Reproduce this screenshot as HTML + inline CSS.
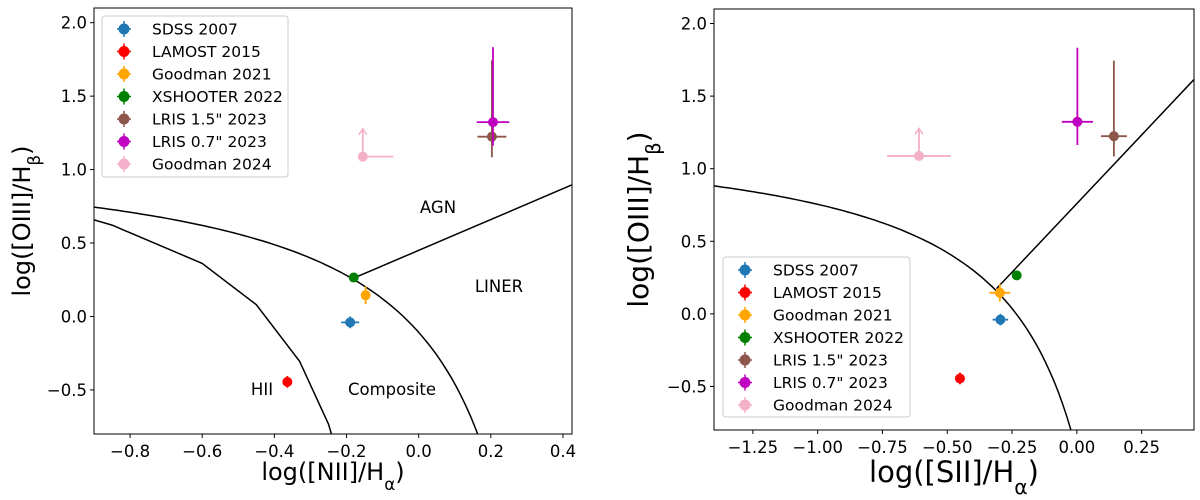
<!DOCTYPE html>
<html><head><meta charset="utf-8"><style>
body{margin:0;background:#fff;width:1200px;height:495px;overflow:hidden}
svg text{font-family:"DejaVu Sans","Liberation Sans",sans-serif}
</style></head><body>
<svg id="chart" width="1200" height="495" xmlns="http://www.w3.org/2000/svg"></svg>
<script>
const seriesNames=["SDSS 2007","LAMOST 2015","Goodman 2021","XSHOOTER 2022","LRIS 1.5\" 2023","LRIS 0.7\" 2023","Goodman 2024"];
const seriesColors=["#1f77b4","#ff0000","#ffa500","#008000","#8c564b","#c000c0","#f4b0c8"];
const nii=[-0.19,-0.364,-0.147,-0.18,0.203,0.206,-0.155];
const niiErr=[0.025,0.008,0.008,0.008,0.04,0.045,0];
const niiErrRight=[0.025,0.008,0.008,0.008,0.04,0.045,0.085];
const sii=[-0.295,-0.451,-0.297,-0.232,0.143,0.002,-0.609];
const siiErr=[0.03,0.01,0.04,0.008,0.05,0.06,0.123];
const oiii=[-0.04,-0.445,0.145,0.265,1.224,1.323,1.088];
const oiiiErrLo=[0.04,0.04,0.06,0.01,0.14,0.16,0];
const oiiiErrHi=[0.04,0.04,0.06,0.01,0.52,0.51,0.19];
const xTicksL=[-0.8,-0.6,-0.4,-0.2,0.0,0.2,0.4];
const xTickLabL=["\u22120.8","\u22120.6","\u22120.4","\u22120.2","0.0","0.2","0.4"];
const xTicksR=[-1.25,-1.0,-0.75,-0.5,-0.25,0.0,0.25];
const xTickLabR=["\u22121.25","\u22121.00","\u22120.75","\u22120.50","\u22120.25","0.00","0.25"];
const yTicks=[-0.5,0,0.5,1.0,1.5,2.0];
const yTickLab=["\u22120.5","0.0","0.5","1.0","1.5","2.0"];

const NS="http://www.w3.org/2000/svg";
const svg=document.getElementById('chart');
function mk(tag,attrs,parent,name){const e=document.createElementNS(NS,tag);for(const k in attrs)e.setAttribute(k,attrs[k]);


(parent||svg).appendChild(e);return e;}

function panel(P){
  const g=mk('g',{},svg,P.id);
  const sx=v=>P.x0+(v-P.xmin)/(P.xmax-P.xmin)*(P.x1-P.x0);
  const sy=v=>P.y1-(v-P.ymin)/(P.ymax-P.ymin)*(P.y1-P.y0);
  const clipId=P.id+'-clip';
  const defs=mk('defs',{},g,'clip-defs');
  const cp=mk('clipPath',{id:clipId},defs,'clip');
  mk('rect',{x:P.x0,y:P.y0,width:P.x1-P.x0,height:P.y1-P.y0},cp,'clip-rect');
  const pg=mk('g',{'clip-path':`url(#${clipId})`},g,'plot-area');
  P.curves.forEach((c,i)=>{
    let d='';c.forEach((p,j)=>{d+=(j?'L':'M')+sx(p[0]).toFixed(1)+','+sy(p[1]).toFixed(1)});
    mk('path',{d,fill:'none',stroke:'#000','stroke-width':1.5},pg,'demarcation-line-'+i);
  });
  P.xs.forEach((xv,i)=>{
    const c=seriesColors[i];const cx=sx(xv),cy=sy(oiii[i]);
    const sg=mk('g',{},pg,'point-'+seriesNames[i].toLowerCase().replace(/[^a-z0-9]+/g,'-'));
    mk('line',{x1:sx(xv-P.xel[i]),x2:sx(xv+P.xer[i]),y1:cy,y2:cy,stroke:c,'stroke-width':1.8},sg,'x-error-bar');
    if(i===6){
      mk('line',{x1:cx,x2:cx,y1:cy,y2:sy(oiii[i]+oiiiErrHi[i]),stroke:c,'stroke-width':1.8},sg,'upper-limit-arrow');
      const ty=sy(oiii[i]+oiiiErrHi[i]);
      mk('path',{d:`M${cx-4},${ty+6}L${cx},${ty}L${cx+4},${ty+6}`,fill:'none',stroke:c,'stroke-width':1.5},sg,'arrow-head');
    } else {
      mk('line',{x1:cx,x2:cx,y1:sy(oiii[i]-oiiiErrLo[i]),y2:sy(oiii[i]+oiiiErrHi[i]),stroke:c,'stroke-width':1.8},sg,'y-error-bar');
    }
    mk('circle',{cx,cy,r:5,fill:c},sg,'marker');
  });
  mk('rect',{x:P.x0,y:P.y0,width:P.x1-P.x0,height:P.y1-P.y0,fill:'none',stroke:'#000','stroke-width':1},g,'axes-frame');
  P.xt.forEach((t,i)=>{const x=sx(t);
    mk('line',{x1:x,x2:x,y1:P.y1,y2:P.y1+4,stroke:'#000'},g,'x-tick');
    const tx=mk('text',{x,y:P.y1+23,'text-anchor':'middle','font-size':16.5},g,'x-tick-label');tx.textContent=P.xl[i];});
  yTicks.forEach((t,i)=>{const y=sy(t);
    mk('line',{x1:P.x0-4,x2:P.x0,y1:y,y2:y,stroke:'#000'},g,'y-tick');
    const tx=mk('text',{x:P.x0-7,y:y+6,'text-anchor':'end','font-size':16.5},g,'y-tick-label');tx.textContent=yTickLab[i];});
  const xt=mk('text',{x:(P.x0+P.x1)/2,y:P.xty,'text-anchor':'middle','font-size':P.tfs},g,'x-axis-title');
  xt.innerHTML=P.xtitle+'/H<tspan baseline-shift="sub" font-size="'+(P.tfs*0.7)+'">α</tspan>)';
  const yt=mk('text',{x:0,y:0,'text-anchor':'middle','font-size':P.ytfs,transform:`translate(${P.ytx},${(P.y0+P.y1)/2}) rotate(-90)`},g,'y-axis-title');
  yt.innerHTML='log([OIII]/H<tspan baseline-shift="sub" font-size="'+(P.ytfs*0.7)+'">β</tspan>)';
  const L=P.leg;const lg=mk('g',{},g,'legend');
  mk('rect',{x:L.x,y:L.y,width:L.w,height:L.h,rx:3,fill:'#fff',stroke:'#ccc','stroke-width':1},lg,'legend-frame');
  seriesNames.forEach((n,i)=>{const y=L.r0+i*22.5;const c=seriesColors[i];
    const eg=mk('g',{},lg,'legend-entry');
    mk('line',{x1:L.mx-7,x2:L.mx+7,y1:y,y2:y,stroke:c,'stroke-width':1.5},eg,'legend-xerr');
    mk('line',{x1:L.mx,x2:L.mx,y1:y-8,y2:y+8,stroke:c,'stroke-width':1.5},eg,'legend-yerr');
    mk('circle',{cx:L.mx,cy:y,r:5.5,fill:c},eg,'legend-marker');
    const t=mk('text',{x:L.tx,y:y+5.5,'font-size':15.5},eg,'legend-label');t.textContent=n;});
  (P.labels||[]).forEach(l=>{const t=mk('text',{x:l[1],y:l[2],'text-anchor':'middle','font-size':16.5},g,'region-label-'+l[0].toLowerCase());t.textContent=l[0];});
}
function samp(f,a,b,n){const r=[];for(let i=0;i<=n;i++){const x=a+(b-a)*i/n;r.push([x,f(x)]);}return r;}
const kew=x=>0.61/(x-0.47)+1.19;
const kauf=x=>0.61/(x-0.05)+1.3;
panel({id:'nii-panel',x0:94,x1:572,y0:8,y1:434,xmin:-0.9,xmax:0.425,ymin:-0.8,ymax:2.1,
  xs:nii,xel:niiErr,xer:niiErrRight,xt:xTicksL,xl:xTickLabL,
  curves:[samp(kew,-0.9,0.17,80),[-0.9,-0.85,-0.6,-0.45,-0.33,-0.25,-0.2].map(x=>[x,kauf(x)]),samp(x=>1.05*x+0.45,-0.18,0.43,2)],
  xtitle:'log([NII]',xty:480,ytx:30,tfs:24,ytfs:24,
  leg:{x:102,y:16,w:186,h:161,r0:29,mx:124,tx:152},
  labels:[['AGN',438,213],['LINER',499,292],['HII',262,395],['Composite',392,395]]});
panel({id:'sii-panel',x0:714,x1:1194,y0:9,y1:430,xmin:-1.4,xmax:0.452,ymin:-0.8,ymax:2.1,
  xs:sii,xel:siiErr,xer:siiErr,xt:xTicksR,xl:xTickLabR,
  curves:[samp(x=>0.72/(x-0.32)+1.30,-1.4,-0.02,80),samp(x=>1.89*x+0.76,-0.31,0.46,2)],
  xtitle:'log([SII]',xty:482,ytx:648,tfs:29,ytfs:28,
  leg:{x:723,y:257,w:187,h:160,r0:270,mx:745,tx:773}});
</script>
</body></html>
